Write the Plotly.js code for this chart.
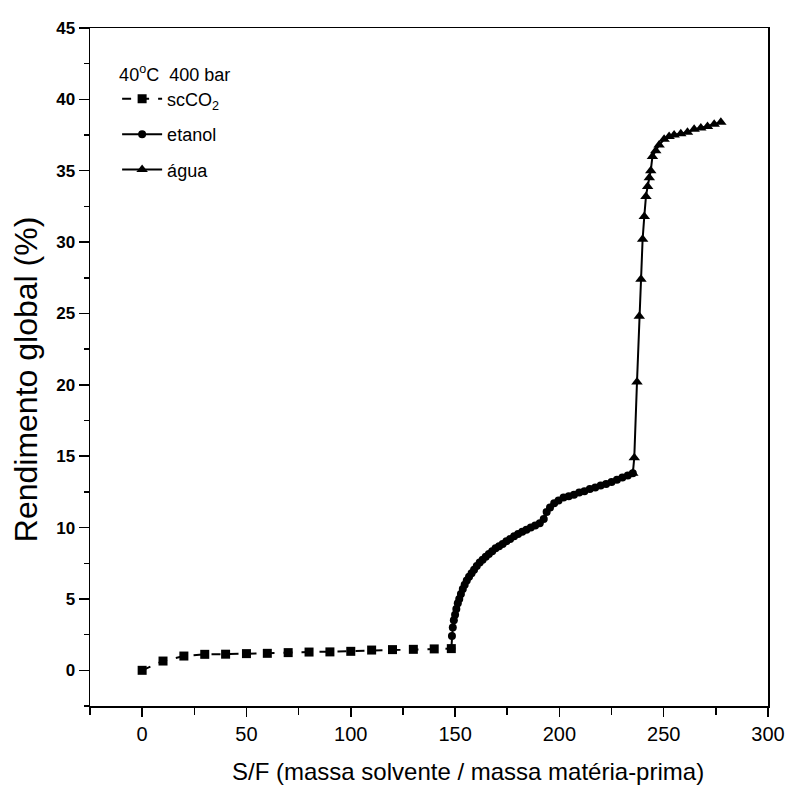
<!DOCTYPE html>
<html>
<head>
<meta charset="utf-8">
<script src="https://cdn.plot.ly/plotly-3.0.1.min.js"></script>
<style>html,body{margin:0;padding:0;background:#fff;}#chart{width:792px;height:806px;}</style>
</head>
<body>
<div id="chart"></div>
<script>
// scCO2 series
const sfCO2 = [0, 10, 20, 30, 40, 50, 60, 70, 80, 90, 100, 110, 120, 130, 140, 148.2];
const yCO2  = [0, 0.65, 1.0, 1.12, 1.13, 1.17, 1.19, 1.24, 1.28, 1.29, 1.33, 1.42, 1.45, 1.47, 1.5, 1.52];

// etanol series
const sfEtanol = [148.2, 148.5, 148.9, 149.4, 150.0, 150.6, 151.3, 152.0, 152.8, 153.7,
  154.6, 155.6, 156.7, 157.9, 159.1, 160.4, 161.8, 163.2, 164.7, 166.2,
  167.8, 169.4, 171.1, 172.8, 174.6, 176.4, 178.3, 180.2, 182.2, 184.2,
  186.3, 188.4, 190.6, 192.5, 193.9, 195.5, 197.5, 199.6, 202.0, 204.5,
  207.0, 209.5, 212.0, 214.6, 217.2, 219.8, 222.4, 225.0, 227.6, 230.2,
  232.8, 235.2];
const yEtanol = [1.52, 2.4, 3.0, 3.5, 3.9, 4.3, 4.7, 5.0, 5.35, 5.7,
  6.0, 6.3, 6.55, 6.8, 7.05, 7.3, 7.55, 7.75, 7.95, 8.15,
  8.35, 8.55, 8.7, 8.85, 9.05, 9.2, 9.4, 9.55, 9.7, 9.85,
  10.0, 10.15, 10.3, 10.6, 11.1, 11.4, 11.7, 11.9, 12.1, 12.2,
  12.3, 12.45, 12.55, 12.7, 12.8, 12.95, 13.05, 13.2, 13.35, 13.5,
  13.65, 13.8];

// água series
const sfAgua = [235.2, 235.9, 237.2, 238.3, 239.1, 239.9, 240.7, 241.5, 242.3, 243.1,
  243.8, 244.6, 246.2, 247.8, 250.2, 252.6, 255.0, 258.2, 261.4, 264.6,
  267.8, 271.0, 274.2, 277.4];
const yAgua = [13.8, 14.9, 20.2, 24.8, 27.4, 30.2, 31.8, 33.2, 33.9, 34.5,
  35.0, 36.0, 36.4, 36.8, 37.2, 37.4, 37.5, 37.6, 37.7, 37.9,
  38.0, 38.1, 38.25, 38.4];

const legendTitle = '40<sup>o</sup>C  400 bar';
const names = ['scCO<sub>2</sub>', 'etanol', 'água'];
const xTitle = 'S/F (massa solvente / massa matéria-prima)';
const yTitle = 'Rendimento global (%)';

const traces = [
  {x: sfCO2, y: yCO2, name: names[0], type: 'scatter', mode: 'lines+markers', legendgroup: 'a',
   line: {color: '#000', width: 2, dash: 'dash'}, marker: {symbol: 'square', size: 9, color: '#000'}},
  {x: sfEtanol, y: yEtanol, name: names[1], type: 'scatter', mode: 'lines+markers', legendgroup: 'b',
   line: {color: '#000', width: 2}, marker: {symbol: 'circle', size: 8, color: '#000'}},
  {x: sfAgua, y: yAgua, name: names[2], type: 'scatter', mode: 'lines+markers', legendgroup: 'c',
   line: {color: '#000', width: 2}, marker: {symbol: 'triangle-up', size: 10, color: '#000'}}
];

const layout = {
  width: 792, height: 806,
  paper_bgcolor: '#fff', plot_bgcolor: '#fff',
  margin: {l: 90, r: 24, t: 28, b: 100},
  showlegend: true,
  legend: {
    x: 0.04, y: 0.957, xanchor: 'left', yanchor: 'top',
    title: {text: legendTitle, font: {family: 'Liberation Sans, Arial, sans-serif', size: 18, color: '#000'}},
    font: {family: 'Liberation Sans, Arial, sans-serif', size: 18, color: '#000'},
    bgcolor: 'rgba(0,0,0,0)', traceorder: 'grouped', tracegroupgap: 9, itemwidth: 40
  },
  xaxis: {
    range: [-25, 300], tick0: 0, dtick: 50,
    ticks: 'outside', ticklen: 9, tickwidth: 1.5, tickcolor: '#000',
    minor: {dtick: 25, ticks: 'outside', ticklen: 7, tickwidth: 1.5, tickcolor: '#000', showgrid: false},
    showline: true, linecolor: '#000', linewidth: 1.5, mirror: true,
    showgrid: false, zeroline: false,
    tickfont: {family: 'Liberation Sans, Arial, sans-serif', size: 20, color: '#000'}
  },
  yaxis: {
    range: [-2.5, 45], tick0: 0, dtick: 5,
    ticks: 'outside', ticklen: 10, tickwidth: 1.5, tickcolor: '#000',
    minor: {dtick: 2.5, ticks: 'outside', ticklen: 5, tickwidth: 1.5, tickcolor: '#000', showgrid: false},
    showline: true, linecolor: '#000', linewidth: 1.5, mirror: true,
    showgrid: false, zeroline: false,
    tickfont: {family: 'Liberation Sans, Arial, sans-serif', size: 17, color: '#000', weight: 'bold'}
  },
  annotations: [
    {text: xTitle, xref: 'paper', yref: 'paper', x: 0.5575, y: -0.0973, xanchor: 'center', yanchor: 'middle',
     showarrow: false, font: {family: 'Liberation Sans, Arial, sans-serif', size: 24, color: '#000'}},
    {text: yTitle, xref: 'paper', yref: 'paper', x: -0.0944, y: 0.482, xanchor: 'center', yanchor: 'middle',
     textangle: -90, showarrow: false, font: {family: 'Liberation Sans, Arial, sans-serif', size: 32, color: '#000'}}
  ]
};

Plotly.newPlot('chart', traces, layout, {displayModeBar: false, staticPlot: true});
</script>
</body>
</html>
